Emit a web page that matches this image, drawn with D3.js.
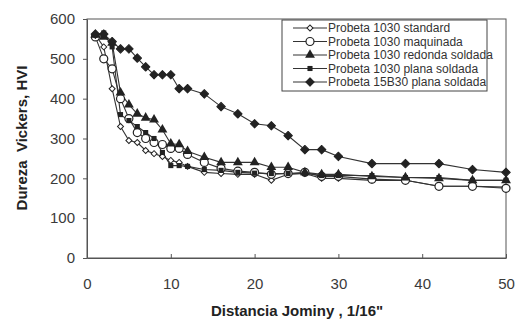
<!DOCTYPE html>
<html>
<head>
<meta charset="utf-8">
<script src="https://cdn.jsdelivr.net/npm/d3@7"></script>
<style>
  body { margin: 0; background: #fff; }
  svg { font-family: "Liberation Sans", Arial, sans-serif; }
</style>
</head>
<body>
<svg id="chart" width="515" height="324"></svg>
<script>
// Jominy distance, 1/16"
const distances = [1,2,3,4,5,6,7,8,9,10,11,12,14,16,18,20,22,24,26,28,30,34,38,42,46,50];
const standard  = [560,530,425,330,295,290,270,262,255,245,240,230,215,212,210,210,195,210,212,200,200,195,195,180,180,178];
const maquinada = [555,500,475,400,350,315,300,290,285,275,275,260,240,225,218,215,210,212,215,205,205,198,195,180,180,175];
const redonda   = [560,555,540,415,385,362,352,347,322,287,285,268,253,240,240,240,228,228,215,210,210,205,202,200,195,195];
const plana     = [560,565,530,360,345,330,315,300,265,232,232,230,222,220,215,213,212,212,212,207,207,207,202,202,195,195];
const b15b30    = [562,562,543,525,525,502,480,460,460,460,425,425,412,380,362,337,332,307,272,272,255,237,237,237,222,215];
const seriesNames = ["Probeta 1030 standard", "Probeta 1030 maquinada", "Probeta 1030 redonda soldada",
                     "Probeta 1030 plana soldada", "Probeta 15B30 plana soldada"];
const xTicks = [0,10,20,30,40,50];
const yTicks = [0,100,200,300,400,500,600];

const series = [
  { name: seriesNames[0], values: standard,  shape: "diamondOpen" },
  { name: seriesNames[1], values: maquinada, shape: "circleOpen" },
  { name: seriesNames[2], values: redonda,   shape: "triangle" },
  { name: seriesNames[3], values: plana,     shape: "square" },
  { name: seriesNames[4], values: b15b30,    shape: "diamond" }
];

const svg = d3.select("#chart");
const plotLeft = 87, plotRight = 506, plotTop = 19, plotBottom = 258;
const ink = "#222";

const x = d3.scaleLinear().domain([0, 50]).range([plotLeft, plotRight]);
const y = d3.scaleLinear().domain([0, 600]).range([plotBottom, plotTop]);

// frame
svg.append("rect")
  .attr("x", plotLeft).attr("y", plotTop)
  .attr("width", plotRight - plotLeft).attr("height", plotBottom - plotTop)
  .attr("fill", "none").attr("stroke", "#555").attr("stroke-width", 1);

// axes
const xAxis = svg.append("g")
  .attr("transform", `translate(0,${plotBottom})`)
  .call(d3.axisBottom(x).tickValues(xTicks).tickSizeInner(-4).tickSizeOuter(0).tickPadding(20));
const yAxis = svg.append("g")
  .attr("transform", `translate(${plotLeft},0)`)
  .call(d3.axisLeft(y).tickValues(yTicks).tickSize(4).tickSizeOuter(0).tickPadding(8));
[xAxis, yAxis].forEach(g => {
  g.select(".domain").attr("stroke", "#555");
  g.selectAll(".tick line").attr("stroke", "#555");
  g.selectAll("text").attr("fill", "#3a3a3a").style("font-size", "15px");
});

// titles
svg.append("text")
  .attr("x", 297).attr("y", 316)
  .attr("text-anchor", "middle")
  .attr("fill", ink)
  .style("font-size", "15px").style("font-weight", "bold")
  .text("Distancia Jominy , 1/16\"");
svg.append("text")
  .attr("transform", "translate(27,138) rotate(-90)")
  .attr("text-anchor", "middle")
  .attr("fill", ink)
  .style("font-size", "15px").style("font-weight", "bold")
  .style("white-space", "pre")
  .text("Dureza  Vickers, HVI");

function drawMarker(g, shape, cx, cy) {
  if (shape === "diamondOpen") {
    g.append("path").attr("d", d3.symbol(d3.symbolSquare, 18)()).attr("transform", `translate(${cx},${cy}) rotate(45)`)
      .attr("fill", "#fff").attr("stroke", ink).attr("stroke-width", 1);
  } else if (shape === "circleOpen") {
    g.append("circle").attr("cx", cx).attr("cy", cy).attr("r", 4)
      .attr("fill", "#fff").attr("stroke", ink).attr("stroke-width", 1.2);
  } else if (shape === "triangle") {
    g.append("path").attr("d", d3.symbol(d3.symbolTriangle, 42)()).attr("transform", `translate(${cx},${cy})`)
      .attr("fill", ink);
  } else if (shape === "square") {
    g.append("path").attr("d", d3.symbol(d3.symbolSquare, 26)()).attr("transform", `translate(${cx},${cy})`)
      .attr("fill", ink);
  } else if (shape === "diamond") {
    g.append("path").attr("d", d3.symbol(d3.symbolSquare, 36)()).attr("transform", `translate(${cx},${cy}) rotate(45)`)
      .attr("fill", ink).attr("stroke", ink).attr("stroke-width", 1).attr("stroke-linejoin", "round");
  }
}

const line = d3.line().x(d => x(d[0])).y(d => y(d[1]));

series.forEach(s => {
  const pts = distances.map((d, i) => [d, s.values[i]]);
  svg.append("path")
    .datum(pts)
    .attr("d", line)
    .attr("fill", "none")
    .attr("stroke", "#333")
    .attr("stroke-width", 1.1);
});
series.forEach(s => {
  const g = svg.append("g");
  distances.forEach((d, i) => drawMarker(g, s.shape, x(d), y(s.values[i])));
});

// legend
const lg = svg.append("g");
lg.append("rect")
  .attr("x", 282).attr("y", 20).attr("width", 205).attr("height", 71)
  .attr("fill", "#fff").attr("stroke", "#444").attr("stroke-width", 1);
series.forEach((s, i) => {
  const ly = 28 + i * 13.5;
  lg.append("line").attr("x1", 293).attr("x2", 327).attr("y1", ly).attr("y2", ly)
    .attr("stroke", "#333").attr("stroke-width", 1.2);
  drawMarker(lg, s.shape, 310, ly);
  lg.append("text")
    .attr("x", 328).attr("y", ly + 4)
    .attr("fill", "#333")
    .style("font-size", "12px")
    .text(s.name);
});
</script>
</body>
</html>
